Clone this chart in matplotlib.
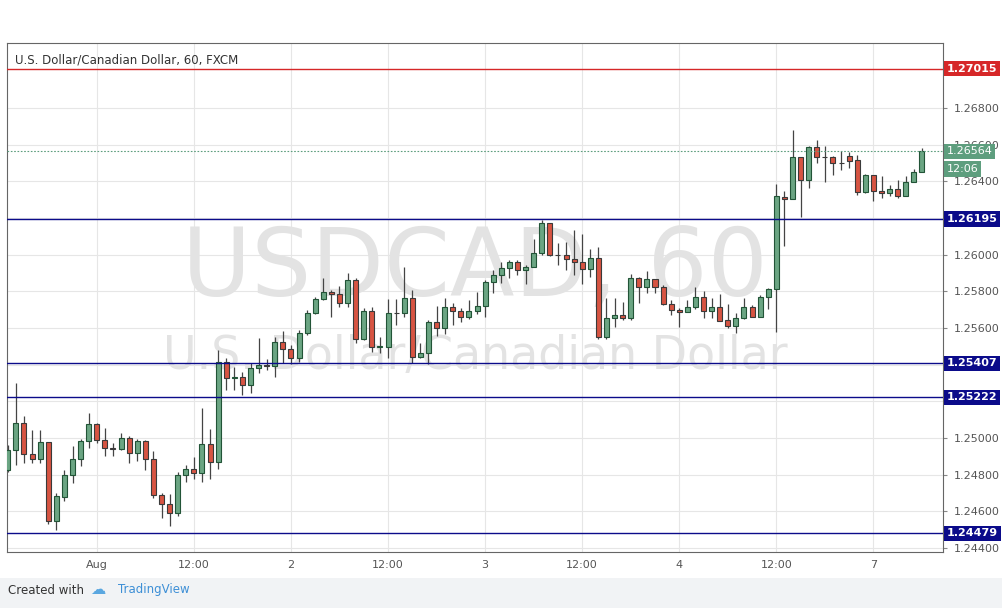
import numpy as np
import matplotlib
matplotlib.use("Agg")
import matplotlib.pyplot as plt
from matplotlib.patches import Rectangle

# OHLC in 1e-4 price units (hourly candles)
opens = [12482.5,12493.5,12508.2,12491.3,12488.5,12497.8,12454.7,12467.8,12479.8,12488.5,
         12498.4,12507.6,12498.9,12494.6,12494.0,12500.0,12491.8,12498.4,12488.5,12468.9,
         12464.0,12459.1,12479.8,12483.1,12480.9,12496.7,12486.9,12541.5,12532.7,12533.3,
         12528.9,12538.2,12539.8,12539.3,12552.4,12548.6,12543.6,12557.3,12568.2,12575.8,
         12579.6,12578.6,12573.6,12586.2,12554.0,12569.3,12549.6,12549.6,12568.2,12568.2,
         12576.4,12544.2,12546.4,12563.3,12560.0,12571.5,12569.3,12566.0,12569.3,12572.0,
         12585.1,12588.9,12592.7,12596.0,12591.6,12593.3,12600.9,12617.3,12599.8,12599.8,
         12597.6,12596.0,12592.2,12598.2,12555.1,12565.5,12567.1,12565.5,12587.3,12582.4,
         12586.7,12582.4,12573.1,12569.8,12568.7,12571.5,12576.9,12569.3,12571.5,12564.4,
         12561.1,12565.5,12571.5,12566.0,12576.9,12581.3,12631.5,12630.4,12653.3,12640.7,
         12658.7,12653.3,12653.3,12650.0,12653.8,12651.7,12634.2,12643.5,12634.7,12633.7,
         12635.8,12632.0,12639.7,12645.1]
highs = [12496.2,12530.0,12512.0,12504.4,12504.4,12497.8,12470.0,12482.5,12495.6,12499.5,
         12513.6,12508.2,12505.5,12497.3,12502.7,12501.1,12499.5,12498.9,12492.9,12470.0,
         12469.5,12481.5,12485.3,12489.6,12516.4,12504.9,12548.0,12543.6,12538.7,12536.0,
         12540.9,12554.6,12543.1,12555.1,12558.4,12550.7,12558.9,12569.8,12576.9,12587.3,
         12580.7,12582.9,12590.0,12587.3,12570.9,12571.5,12555.1,12575.8,12575.8,12593.3,
         12580.7,12551.8,12564.4,12572.0,12576.4,12573.6,12570.9,12575.3,12579.6,12586.2,
         12591.6,12596.0,12597.1,12597.1,12594.4,12608.6,12618.9,12617.3,12606.4,12606.9,
         12613.5,12611.3,12603.1,12604.2,12576.4,12576.4,12574.2,12589.5,12587.8,12591.1,
         12586.7,12583.5,12575.3,12570.9,12575.3,12582.4,12580.2,12576.4,12578.6,12573.1,
         12568.2,12576.4,12572.6,12578.0,12581.8,12638.6,12634.7,12668.0,12653.3,12659.3,
         12662.6,12659.3,12653.8,12656.6,12656.0,12654.4,12644.0,12643.5,12642.9,12638.0,
         12640.7,12642.9,12646.7,12658.2]
lows = [12481.5,12485.3,12486.4,12486.4,12486.4,12453.1,12449.8,12465.6,12475.5,12484.7,
        12494.6,12497.3,12490.2,12490.2,12493.5,12486.4,12487.5,12482.5,12467.3,12456.4,
        12452.0,12457.5,12476.0,12477.6,12476.0,12477.6,12483.1,12526.2,12526.2,12523.5,
        12524.6,12535.5,12537.1,12533.3,12540.9,12540.4,12541.5,12556.2,12567.6,12575.3,
        12566.0,12571.5,12571.5,12551.8,12553.5,12546.9,12546.4,12543.6,12561.6,12566.0,
        12540.9,12543.6,12540.4,12555.6,12556.7,12561.6,12563.3,12564.9,12567.6,12566.0,
        12579.1,12584.6,12587.3,12588.9,12584.0,12593.3,12599.8,12599.3,12594.4,12591.6,
        12588.9,12584.0,12587.8,12554.0,12554.0,12560.6,12564.4,12564.4,12573.6,12579.1,
        12579.1,12572.6,12567.1,12560.6,12568.7,12570.4,12565.5,12565.5,12563.8,12560.0,
        12557.3,12564.9,12566.0,12566.0,12570.4,12557.8,12604.7,12630.4,12620.6,12636.4,
        12650.0,12639.7,12643.5,12646.2,12647.3,12632.6,12633.7,12629.3,12630.9,12632.0,
        12630.9,12632.0,12639.7,12645.1]
closes = [12493.5,12508.2,12491.3,12488.5,12497.8,12454.7,12468.4,12479.8,12488.5,12498.4,
          12507.6,12498.9,12494.6,12494.0,12500.0,12491.8,12498.4,12488.5,12468.9,12464.0,
          12459.1,12479.8,12483.1,12480.9,12496.7,12486.9,12541.5,12532.7,12533.3,12528.9,
          12538.2,12539.8,12539.5,12552.4,12548.6,12543.6,12557.3,12568.2,12575.8,12579.6,
          12578.6,12573.6,12586.2,12554.0,12569.3,12549.6,12550.2,12568.2,12568.0,12576.4,
          12544.2,12546.4,12563.3,12560.0,12571.5,12569.3,12566.0,12569.3,12572.0,12585.1,
          12588.9,12592.7,12596.0,12591.6,12593.3,12600.9,12617.3,12599.8,12599.6,12597.6,
          12596.0,12592.2,12598.2,12555.1,12565.5,12567.1,12565.5,12587.3,12582.4,12586.7,
          12582.4,12573.1,12569.8,12568.7,12571.5,12576.9,12569.3,12571.5,12563.8,12561.1,
          12565.5,12571.5,12566.0,12576.9,12581.3,12632.0,12630.4,12653.3,12640.7,12658.7,
          12653.3,12653.1,12650.0,12649.8,12651.1,12634.2,12643.5,12634.7,12633.7,12635.8,
          12632.0,12639.7,12645.1,12656.6]

time_label_idx = [11, 23, 35, 47, 59, 71, 83, 95, 107]
time_labels = ["Aug", "12:00", "2", "12:00", "3", "12:00", "4", "12:00", "7"]
level_red = 1.27015
levels_blue = [1.26195, 1.25407, 1.25222, 1.24479]
last_price = 1.26564
price_ticks = [1.2440, 1.2460, 1.2480, 1.2500, 1.2520, 1.2540, 1.2560, 1.2580, 1.2600,
               1.2620, 1.2640, 1.2660, 1.2680]
hidden_tick_labels = [1.2520, 1.2540, 1.2620]

O = np.array(opens) / 1e4
H = np.array(highs) / 1e4
L = np.array(lows) / 1e4
C = np.array(closes) / 1e4

fig = plt.figure(figsize=(10.02, 6.08), dpi=100)
fig.patch.set_facecolor("white")
fig.add_artist(Rectangle((0, 0), 1, 30/608, transform=fig.transFigure,
                         facecolor="#f1f3f5", edgecolor="none"))
ax = fig.add_axes([7/1002, 56/608, 936/1002, 509/608])
ax.set_facecolor("white")

ax.set_xlim(-0.1, 115.6)
ax.set_ylim(1.24378, 1.27155)

for t in price_ticks:
    ax.axhline(t, color="#e6e6e6", lw=0.8, zorder=0)
for i in time_label_idx:
    ax.axvline(i, color="#e6e6e6", lw=0.8, zorder=0)

ax.text(0.5, 0.555, "USDCAD, 60", transform=ax.transAxes, ha="center", va="center",
        fontsize=68, color="#e3e3e3", zorder=0.5)
ax.text(0.5, 0.385, "U.S. Dollar/Canadian Dollar", transform=ax.transAxes, ha="center",
        va="center", fontsize=33, color="#e3e3e3", zorder=0.5)

green, red = "#6ba583", "#d75442"
w = 0.62
for i in range(len(O)):
    up = C[i] >= O[i]
    ax.vlines(i, L[i], H[i], color="#444444", lw=0.9, zorder=2)
    lo, hi = min(O[i], C[i]), max(O[i], C[i])
    hgt = max(hi - lo, 0.000015)
    ax.add_patch(Rectangle((i - w/2, lo), w, hgt, facecolor=green if up else red,
                           edgecolor="#225437" if up else "#3a3a3a", lw=0.8, zorder=3))

ax.axhline(level_red, color="#d62728", lw=1.0, zorder=4)
for lv in levels_blue:
    ax.axhline(lv, color="#0b0b8a", lw=1.0, zorder=4)
ax.axhline(last_price, color="#5e9e7e", lw=0.8, ls=(0, (1.5, 1.5)), zorder=4)

ax.set_xticks(time_label_idx)
ax.set_xticklabels(time_labels, fontsize=8, color="#555555")
ax.tick_params(axis="x", length=0, pad=6)
ax.yaxis.tick_right()
ax.set_yticks(price_ticks)
ax.set_yticklabels(["" if any(abs(t - h) < 1e-9 for h in hidden_tick_labels) else f"{t:.5f}"
                    for t in price_ticks], fontsize=8, color="#555555")
ax.tick_params(axis="y", length=3, color="#888888", pad=5)
for s in ax.spines.values():
    s.set_color("#666666")
    s.set_linewidth(0.8)

def box(y, text, fc, bold=True):
    ax.text(1.004, y, text, transform=ax.get_yaxis_transform(), ha="left", va="center",
            fontsize=8, color="white", zorder=10, fontweight="bold" if bold else "normal",
            bbox=dict(boxstyle="square,pad=0.25", fc=fc, ec="none"), clip_on=False)

box(level_red, "1.27015", "#d62728")
for lv in levels_blue:
    box(lv, f"{lv:.5f}", "#0b0b8a")
box(last_price, "1.26564", "#5e9e7e", bold=False)
box(last_price - 0.00095, "12:06", "#5e9e7e", bold=False)

ax.text(8/936, 0.967, "U.S. Dollar/Canadian Dollar, 60, FXCM", transform=ax.transAxes,
        fontsize=8.5, color="#333333", va="center", ha="left")

fig.text(8/1002, 18/608, "Created with", fontsize=8.5, color="#333333", va="center")
fig.text(118/1002, 18/608, "TradingView", fontsize=8.5, color="#3d8fd6", va="center")
fig.text(90/1002, 18/608, "\u2601", fontsize=11, color="#5aa7e0", va="center",
         family=["DejaVu Sans"])

fig.savefig("out.png", dpi=100)
